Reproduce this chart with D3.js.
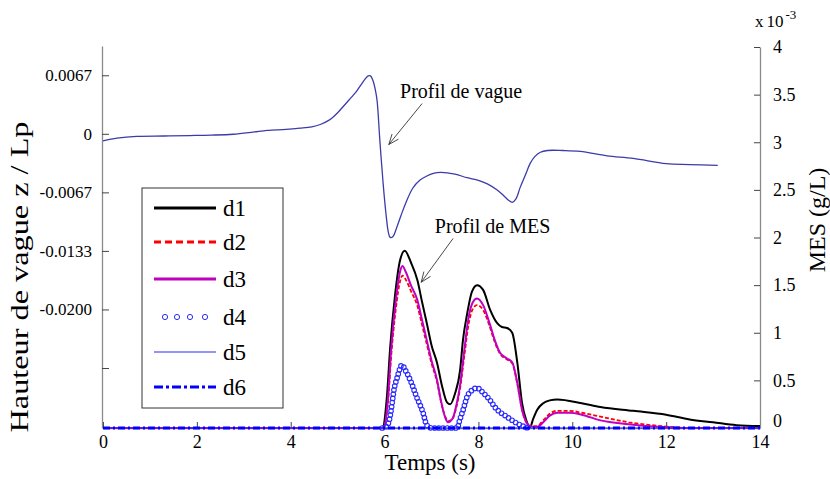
<!DOCTYPE html>
<html><head><meta charset="utf-8">
<script src="https://cdn.jsdelivr.net/npm/d3@7/dist/d3.min.js"></script>
<style>
body{margin:0;background:#fff}
svg{display:block}
text{font-family:"Liberation Serif","Times New Roman",serif;fill:#000}
</style>
</head><body>
<svg id="c" width="830" height="479"></svg>
<script>
// ---------------- DATA ----------------
// wave profile z/Lp (left axis)
const waveT = [0,0.3,0.72,1.3,1.85,2.3,2.77,3.2,3.5,3.9,4.2,4.45,4.63,4.8,4.9,5.0,5.1,5.2,5.3,5.41,5.5,5.58,5.65,5.7,5.75,5.8,5.84,5.9,5.97,6.03,6.08,6.12,6.18,6.25,6.35,6.45,6.6,6.75,6.9,7.04,7.2,7.5,7.76,8.0,8.19,8.4,8.53,8.65,8.72,8.8,8.89,9.0,9.1,9.2,9.32,9.47,9.8,10.17,10.74,11.3,12.0,12.5,13.1];
const waveZ = [-0.0008,-0.0005,-0.0003,-0.00025,-0.0002,-0.00015,-0.00005,0.0002,0.0004,0.0005,0.00064,0.0008,0.00106,0.0015,0.0019,0.0024,0.003,0.0036,0.0042,0.0049,0.0056,0.0062,0.0066,0.0066,0.0061,0.0051,0.0038,-0.0008,-0.0057,-0.0091,-0.0112,-0.0118,-0.0117,-0.0108,-0.0093,-0.0079,-0.0062,-0.0053,-0.0048,-0.0045,-0.0044,-0.0046,-0.005,-0.0053,-0.0057,-0.0064,-0.007,-0.0076,-0.0078,-0.0074,-0.0061,-0.0047,-0.0034,-0.0026,-0.0021,-0.0019,-0.0019,-0.002,-0.0025,-0.0028,-0.0034,-0.0035,-0.0036];

// MES series (right axis, x 10^-3 g/L)
const mesT1 = [0,5.95,6.05,6.12,6.22,6.33,6.43,6.56,6.7,6.8,6.9,7.0,7.12,7.22,7.33,7.4,7.5,7.61,7.67,7.76,7.86,7.97,8.1,8.25,8.4,8.5,8.61,8.72,8.83,8.93,9.02,9.1,9.17,9.25,9.38,9.52,9.68,10.2,10.6,11.3,12.0,12.5,13.0,13.5,14.0];
const mes1  = [0,0,0.33,0.85,1.38,1.76,1.86,1.74,1.55,1.32,1.1,0.87,0.68,0.45,0.27,0.25,0.36,0.61,0.92,1.2,1.43,1.5,1.45,1.24,1.1,1.06,1.05,1.0,0.68,0.26,0.08,0.01,0.1,0.19,0.26,0.29,0.3,0.26,0.22,0.18,0.14,0.09,0.06,0.03,0.02];

const mesT23 = [0,5.97,6.07,6.14,6.24,6.33,6.38,6.45,6.56,6.7,6.8,6.9,7.0,7.12,7.2,7.3,7.35,7.45,7.53,7.61,7.7,7.78,7.88,7.97,8.1,8.25,8.35,8.46,8.61,8.72,8.83,8.93,9.02,9.1,9.25,9.38,9.52,9.68,9.95,10.2,10.6,11.2,11.9,12.5,14];
const mes2  = [0,0,0.25,0.75,1.25,1.54,1.6,1.56,1.44,1.28,1.08,0.88,0.68,0.48,0.28,0.11,0.07,0.1,0.22,0.42,0.76,1.06,1.25,1.29,1.24,1.05,0.9,0.78,0.72,0.68,0.46,0.19,0.06,0.02,0.02,0.08,0.15,0.18,0.18,0.16,0.12,0.06,0.02,0,0];
const mes3  = [0,0,0.29,0.82,1.34,1.64,1.7,1.64,1.5,1.34,1.13,0.92,0.71,0.5,0.29,0.1,0.06,0.1,0.24,0.45,0.82,1.13,1.32,1.36,1.29,1.08,0.92,0.79,0.73,0.69,0.47,0.19,0.06,0.02,0.01,0.06,0.13,0.16,0.16,0.14,0.08,0.04,0.01,0,0];

const mesT4 = [5.95,6.05,6.1,6.15,6.2,6.27,6.37,6.45,6.55,6.68,6.82,6.9,7.0,7.55,7.6,7.68,7.76,7.87,7.97,8.1,8.25,8.35,8.45,8.6,8.72,8.82,8.9,9.0,9.05];
const mes4  = [0,0.02,0.08,0.22,0.4,0.53,0.66,0.6,0.5,0.33,0.16,0.03,0,0,0.08,0.2,0.33,0.4,0.42,0.37,0.29,0.22,0.17,0.12,0.08,0.05,0.03,0.01,0];

const mesT56 = [0,14];
const mes5  = [0,0];
const mes6  = [0,0];

const seriesNames = ["d1","d2","d3","d4","d5","d6"];
const xTicks = [0,2,4,6,8,10,12,14];
const leftTicks = [0.02/3,0,-0.02/3,-0.04/3,-0.02,-0.08/3];
const leftTickLabels = ["0.0067","0","-0.0067","-0.0133","-0.0200",""];
const rightTicks = [0,0.5,1,1.5,2,2.5,3,3.5,4];

// ---------------- CHART ----------------
const svg = d3.select("#c");
const x  = d3.scaleLinear([0,14],[103,760]);
const yL = d3.scaleLinear([-0.0335,0.01],[428,46]);
const yR = d3.scaleLinear([0,4],[428,47]);
const axisColor = "#8a8a8a";

// axes
const gx = svg.append("g").attr("transform","translate(0,428)")
  .call(d3.axisBottom(x).tickValues(xTicks).tickSizeInner(-6).tickSizeOuter(0).tickPadding(7).tickFormat(d3.format("d")));
const gl = svg.append("g").attr("transform","translate(102,0)")
  .call(d3.axisLeft(yL).tickValues(leftTicks).tickSizeInner(-7).tickSizeOuter(0).tickPadding(10)
  .tickFormat((d,i)=>leftTickLabels[i]));
const gr = svg.append("g").attr("transform","translate(760,0)")
  .call(d3.axisRight(yR).tickValues(rightTicks).tickSizeInner(-6).tickSizeOuter(0).tickPadding(13).tickFormat(d=>String(d)));
[gx,gl,gr].forEach(g=>{
  g.select(".domain").attr("stroke",axisColor).attr("stroke-width",1.3);
  g.selectAll(".tick line").attr("stroke","#444");
  g.selectAll(".tick text").attr("font-family","Liberation Serif").attr("fill","#000");
});
gx.selectAll(".tick text").attr("font-size",18);
gl.selectAll(".tick text").attr("font-size",17);
gr.selectAll(".tick text").attr("font-size",18);
gr.selectAll(".tick").filter(d=>d===0).select("text").attr("dy","-0.1em");

// axis titles
svg.append("text").attr("x",430).attr("y",470).attr("text-anchor","middle").attr("font-size",23).text("Temps (s)");
svg.append("text").attr("transform","translate(28,277) rotate(-90)").attr("text-anchor","middle")
  .attr("font-size",25).attr("textLength",311).attr("lengthAdjust","spacingAndGlyphs").text("Hauteur de vague  z / Lp");
svg.append("text").attr("transform","translate(825,220) rotate(-90)").attr("text-anchor","middle")
  .attr("font-size",24).text("MES (g/L)");
const ex = svg.append("text").attr("x",755).attr("y",27).attr("font-size",17);
ex.append("tspan").text("x");
ex.append("tspan").attr("dx",3).text("10");
ex.append("tspan").attr("dx",2).attr("dy",-8).attr("font-size",13).text("-3");

// clip
svg.append("clipPath").attr("id","pc").append("rect").attr("x",102).attr("y",40).attr("width",660).attr("height",392);
const plot = svg.append("g").attr("clip-path","url(#pc)");

const lineR = d3.line().curve(d3.curveMonotoneX);
const mk = (T,V,ys)=>T.map((t,i)=>[x(t),ys(V[i])]);

// wave
plot.append("path").attr("d",d3.line().curve(d3.curveCatmullRom.alpha(0.5))(mk(waveT,waveZ,yL)))
  .attr("fill","none").attr("stroke","#3b3baa").attr("stroke-width",1.3);

// MES series
const styles = {
  d1:{stroke:"#000",w:2,dash:null,lw:3.2},
  d2:{stroke:"#ff0000",w:1.8,dash:"4,2",lw:3.2,ldash:"7,4"},
  d3:{stroke:"#c000c0",w:2,dash:null,lw:3.2},
  d4:{stroke:"#2b2bff"},
  d5:{stroke:"#2a2aee",w:1,dash:null,lw:1.2},
  d6:{stroke:"#0000ff",w:3,dash:"7,3,2,3",lw:3.2,ldash:"9,3,3,3"}
};
function drawLine(T,V,s){
  plot.append("path").attr("d",lineR(mk(T,V,yR))).attr("fill","none")
    .attr("stroke",s.stroke).attr("stroke-width",s.w).attr("stroke-dasharray",s.dash);
}
drawLine(mesT1,mes1,styles.d1);
drawLine(mesT23,mes2,styles.d2);
drawLine(mesT23,mes3,styles.d3);
// d4: circle markers along the curve
const p4 = plot.append("path").attr("d",lineR(mk(mesT4,mes4,yR))).attr("fill","none").attr("stroke","none");
const L4 = p4.node().getTotalLength();
const pts4 = d3.range(0,L4,4.2).map(l=>p4.node().getPointAtLength(l));
plot.append("g").selectAll("circle").data(pts4).join("circle")
  .attr("cx",p=>p.x).attr("cy",p=>p.y).attr("r",2.3)
  .attr("fill","none").attr("stroke",styles.d4.stroke).attr("stroke-width",1.1);
drawLine(mesT56,mes5,styles.d5);
drawLine(mesT56,mes6,styles.d6);

// annotations
function arrow(x1,y1,x2,y2){
  svg.append("line").attr("x1",x1).attr("y1",y1).attr("x2",x2).attr("y2",y2).attr("stroke","#333").attr("stroke-width",0.9);
  const a = Math.atan2(y2-y1,x2-x1), L=11, sp=0.38;
  [a+Math.PI-sp,a+Math.PI+sp].forEach(b=>{
    svg.append("line").attr("x1",x2).attr("y1",y2).attr("x2",x2+L*Math.cos(b)).attr("y2",y2+L*Math.sin(b))
      .attr("stroke","#333").attr("stroke-width",0.9);
  });
}
svg.append("text").attr("x",x(6.33)).attr("y",yL(0.0041)).attr("font-size",20).text("Profil de vague");
arrow(x(6.8),yL(0.00345),x(6.09),yL(-0.00122));
svg.append("text").attr("x",x(7.07)).attr("y",yR(2.05)).attr("font-size",20).text("Profil de MES");
arrow(x(7.46),yR(1.99),x(6.78),yR(1.53));

// legend
const lg = svg.append("g");
lg.append("rect").attr("x",142).attr("y",188).attr("width",141).attr("height",220)
  .attr("fill","#fff").attr("stroke","#333").attr("stroke-width",1);
const rowY = [208,242,279,317,352,387];
seriesNames.forEach((n,i)=>{
  const y = rowY[i], s = styles[n];
  if(n==="d4"){
    [165,177,190,205].forEach(cx=>lg.append("circle").attr("cx",cx).attr("cy",y).attr("r",2.6)
      .attr("fill","none").attr("stroke",s.stroke).attr("stroke-width",1));
  } else {
    lg.append("line").attr("x1",154).attr("x2",216).attr("y1",y).attr("y2",y)
      .attr("stroke",s.stroke).attr("stroke-width",s.lw).attr("stroke-dasharray",s.ldash||null);
  }
  lg.append("text").attr("x",223).attr("y",y+8).attr("font-size",23).text(n);
});
</script>
</body></html>
